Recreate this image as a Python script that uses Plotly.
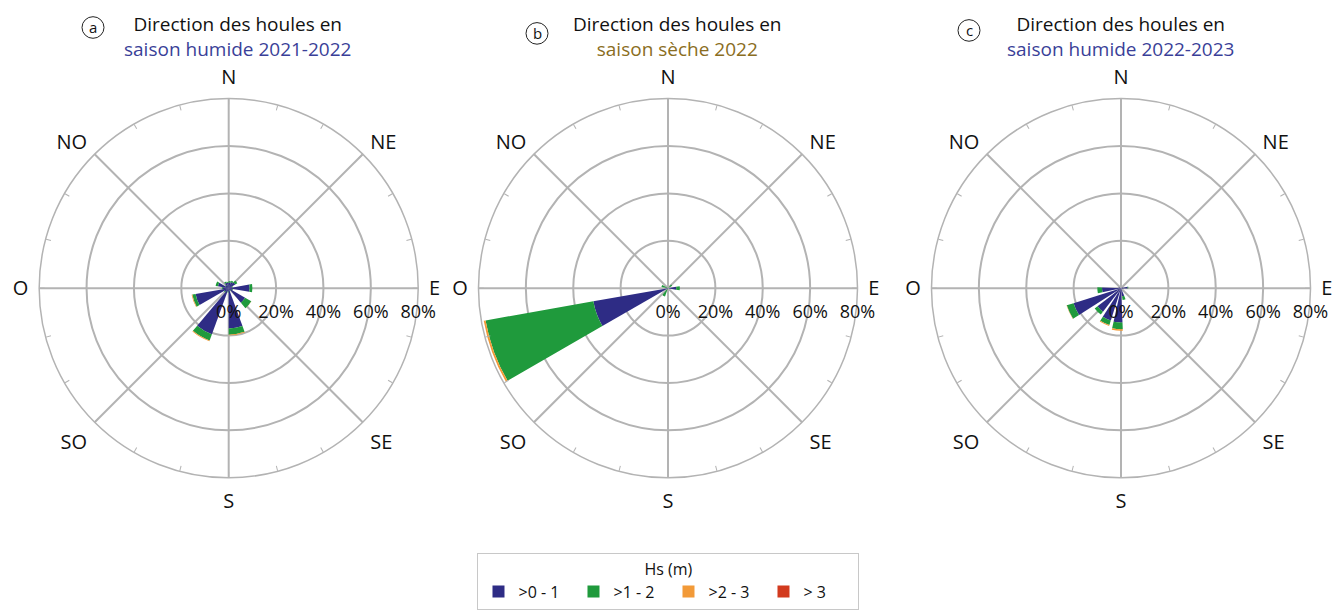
import plotly.graph_objects as go

# Wave height classes (Hs, metres) and their colours
classes = [">0 - 1", ">1 - 2", ">2 - 3", "> 3"]
class_colors = ["#2e2c85", "#1f9a3c", "#f29a38", "#d23a1e"]

# (a) wet season 2021-2022 : 20° sectors, frequency in %
dir_a = [10, 30, 50, 70, 90, 110, 130, 150, 170, 190, 210, 230, 250, 270, 290, 310, 330, 350]
a_0_1 = [2.5, 2.8, 3.2, 1.5, 8.8, 1.5, 8.0, 1.0, 17.0, 1.5, 20.7, 2.0, 14.2, 2.5, 4.6, 1.5, 2.5, 2.3]
a_1_2 = [0.5, 0.5, 1.0, 0.3, 1.2, 0.3, 3.0, 0.2, 2.6, 0.3, 2.8, 0.3, 1.4, 0.4, 1.0, 0.2, 0.5, 0.4]
a_2_3 = [0, 0, 0, 0, 0, 0, 0.1, 0, 0.3, 0, 0.3, 0, 0.3, 0, 0, 0, 0, 0]
a_3 = [0] * 18

# (b) dry season 2022
dir_b = [10, 30, 50, 70, 90, 110, 130, 150, 170, 190, 210, 230, 250, 270, 290, 310, 330, 350]
b_0_1 = [0, 0, 0.3, 0, 3.5, 0, 0, 0, 0, 0, 0.5, 0, 32.0, 0.3, 0.3, 0, 0, 0]
b_1_2 = [0, 0, 1.7, 0, 1.5, 0, 0, 0, 0, 0, 3.2, 0, 46.2, 0, 2.5, 0, 0, 0]
b_2_3 = [0, 0, 0, 0, 0, 0, 0, 0, 0, 0, 0, 0, 0.8, 0, 0, 0, 0, 0]
b_3 = [0] * 18

# (c) wet season 2022-2023
dir_c = [5, 25, 45, 65, 85, 105, 125, 145, 165, 185, 205, 225, 245, 265, 285, 305, 325, 345]
c_0_1 = [0, 0, 0, 0.8, 2.8, 1.0, 0, 0, 3.5, 14.5, 14.3, 12.5, 21.0, 8.0, 1.0, 0, 0, 0]
c_1_2 = [0, 0, 0, 0, 0.3, 0, 0, 0, 1.5, 2.8, 2.0, 1.5, 3.0, 2.0, 0, 0, 0, 0]
c_2_3 = [0, 0, 0, 0, 0, 0, 0, 0, 0, 0.7, 0.4, 0, 0.1, 0, 0, 0, 0, 0]
c_3 = [0] * 18

compass = ["N", "NE", "E", "SE", "S", "SO", "O", "NO"]
compass_deg = [0, 45, 90, 135, 180, 225, 270, 315]
minor_deg = list(range(0, 360, 15))     # small ticks on the outer ring
r_ticks = [0, 20, 40, 60, 80]
r_labels = ["0%", "20%", "40%", "60%", "80%"]

W, H = 1341, 610
R = 193
centers = [228.7, 668.0, 1121.0]
cy = 293.5

grid = "#b3b3b3"
font_family = "Open Sans, Lato, DejaVu Sans, sans-serif"

panels = [
    (dir_a, 20, [a_0_1, a_1_2, a_2_3, a_3], True),
    (dir_b, 20, [b_0_1, b_1_2, b_2_3, b_3], False),
    (dir_c, 15, [c_0_1, c_1_2, c_2_3, c_3], False),
]

fig = go.Figure()
layout_polars = {}
for i, (dirs, width, series, legend) in enumerate(panels):
    grid_id = "polar" if i == 0 else f"polar{i + 1}"
    bars_id = f"polar{i + 4}"
    cx = centers[i]
    domain = dict(x=[(cx - R) / W, (cx + R) / W],
                  y=[(H - cy - R) / H, (H - cy + R) / H])

    # background subplot: rings, the eight spokes and compass labels
    fig.add_trace(go.Scatterpolar(r=[], theta=[], subplot=grid_id,
                                  showlegend=False, hoverinfo="skip"))
    layout_polars[grid_id] = dict(
        domain=domain, bgcolor="white",
        angularaxis=dict(
            rotation=90, direction="clockwise",
            tickmode="array", tickvals=compass_deg, ticktext=compass,
            showline=True, linecolor=grid, linewidth=1.5,
            showgrid=True, gridcolor=grid, gridwidth=1.5,
            ticks="outside", ticklen=6, tickcolor="rgba(0,0,0,0)",
            tickfont=dict(size=20, color="#111111", family=font_family),
        ),
        radialaxis=dict(
            range=[0, 80], tickmode="array", tickvals=r_ticks,
            showticklabels=False, showline=False,
            showgrid=True, gridcolor=grid, gridwidth=1.5, ticks="",
        ),
    )

    # foreground subplot: stacked sectors, radial labels and minor ticks
    for name, color, vals in zip(classes, class_colors, series):
        fig.add_trace(go.Barpolar(
            r=vals, theta=dirs, width=[width] * len(dirs), name=name,
            marker=dict(color=color, line=dict(width=0)),
            subplot=bars_id, showlegend=legend, legendgroup=name,
        ))
    layout_polars[bars_id] = dict(
        domain=domain, bgcolor="rgba(0,0,0,0)", barmode="stack",
        angularaxis=dict(
            rotation=90, direction="clockwise",
            tickmode="array", tickvals=minor_deg, showticklabels=False,
            showline=False, showgrid=False,
            ticks="inside", ticklen=5, tickwidth=1, tickcolor=grid,
        ),
        radialaxis=dict(
            range=[0, 80], angle=0, tickangle=0,
            tickmode="array", tickvals=r_ticks, ticktext=r_labels,
            showline=False, showgrid=False,
            ticks="outside", ticklen=8, tickcolor="rgba(0,0,0,0)",
            tickfont=dict(size=18, color="#111111", family=font_family),
        ),
    )

titles = [
    (237, "saison humide 2021-2022", "#3a3f98", "a", 93, 28),
    (677, "saison sèche 2022", "#8a6d22", "b", 537, 34),
    (1120, "saison humide 2022-2023", "#3a3f98", "c", 969, 31),
]

annotations = []
shapes = []
for x, sub, col, letter, lx, ly in titles:
    annotations.append(dict(
        x=x / W, y=1 - 37 / H, xref="paper", yref="paper", showarrow=False,
        text=f"Direction des houles en<br><span style='color:{col}'>{sub}</span>",
        xanchor="center", yanchor="middle", align="center",
        font=dict(size=19, color="#111111", family=font_family)))
    annotations.append(dict(
        x=lx / W, y=1 - ly / H, xref="paper", yref="paper", showarrow=False,
        text=letter, xanchor="center", yanchor="middle",
        font=dict(size=15, color="#111111", family=font_family)))
    shapes.append(dict(
        type="circle", xref="paper", yref="paper",
        x0=(lx - 11) / W, x1=(lx + 11) / W, y0=1 - (ly + 11) / H, y1=1 - (ly - 11) / H,
        line=dict(color="#222222", width=1)))

fig.update_layout(
    width=W, height=H,
    margin=dict(l=0, r=0, t=0, b=0),
    paper_bgcolor="white",
    annotations=annotations,
    shapes=shapes,
    legend=dict(
        orientation="h", x=0.4985, y=1 - 563 / H, xanchor="center", yanchor="top",
        title=dict(text="Hs (m)", side="top center",
                   font=dict(size=16, color="#111111", family=font_family)),
        font=dict(size=16, color="#111111", family=font_family),
        bordercolor="#c8c8c8", borderwidth=1, bgcolor="white",
        entrywidth=50, traceorder="normal",
    ),
    font=dict(family=font_family),
    **layout_polars,
)

fig.write_html("out.html")
